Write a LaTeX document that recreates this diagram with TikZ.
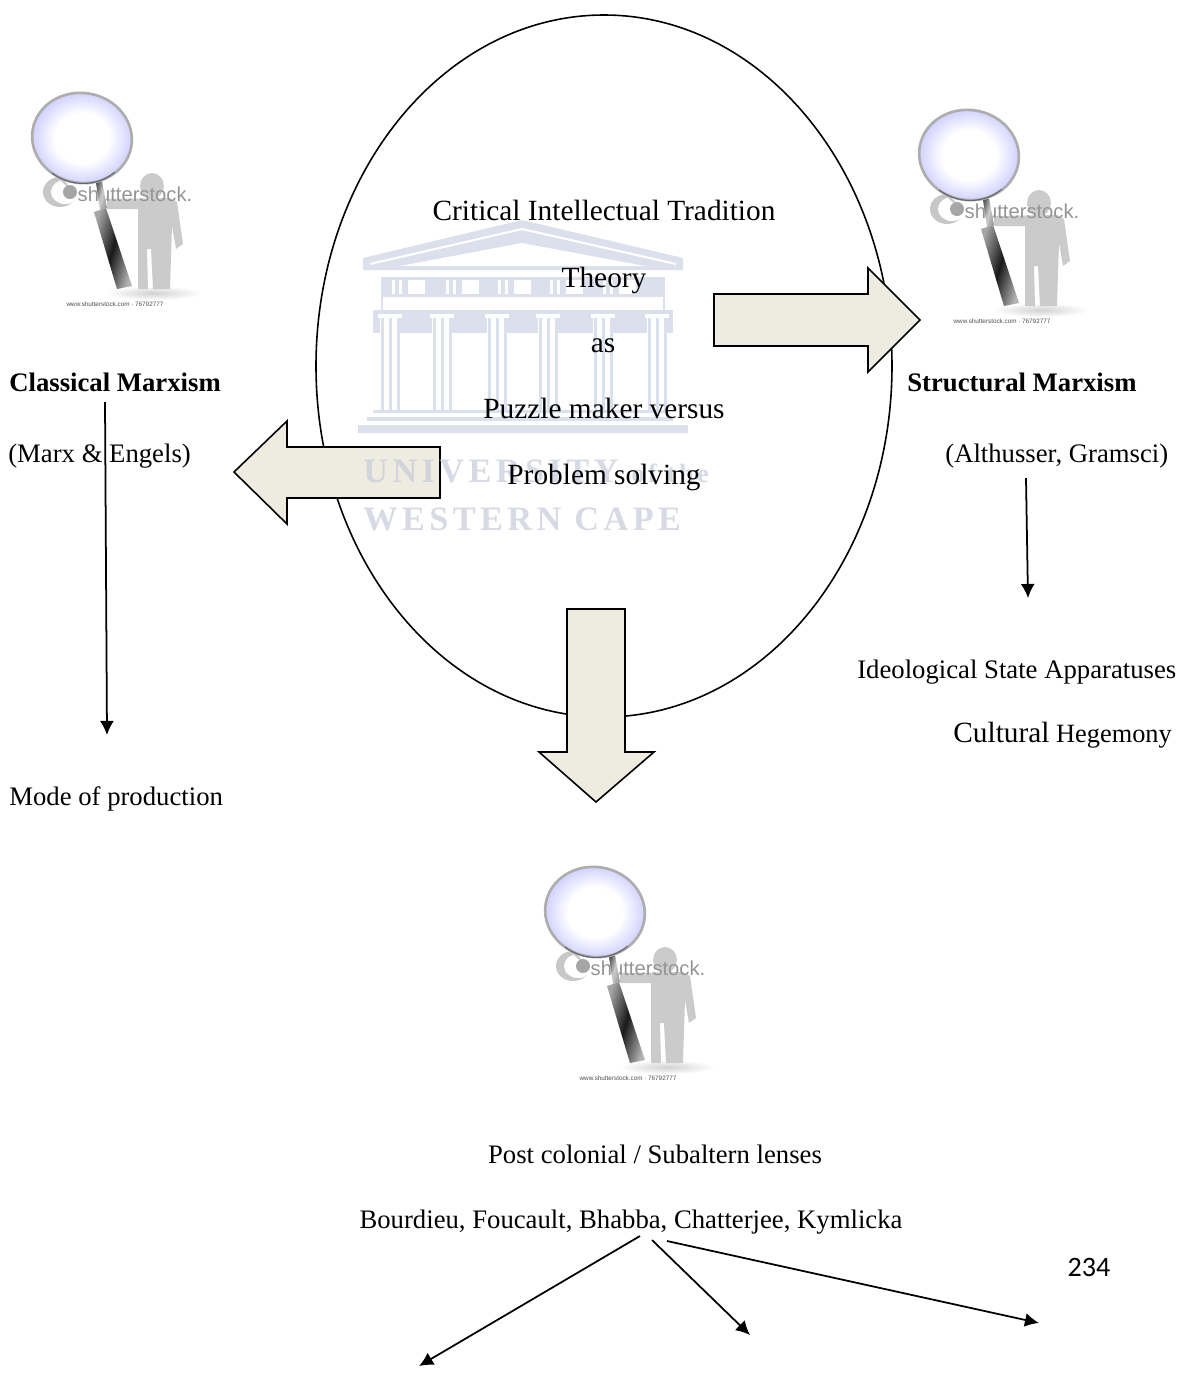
\documentclass[tikz,border=0pt]{standalone}
\usepackage{fontspec}
\setmainfont{Liberation Serif}
\setsansfont{Liberation Sans}
\newfontfamily\pagefont{Carlito}
\newfontfamily\crestfont[LetterSpace=13]{Liberation Serif Bold}
\usetikzlibrary{arrows.meta}
\definecolor{blockfill}{HTML}{EEECE1}
\definecolor{crest}{HTML}{DCDFEC}
\definecolor{crestword}{HTML}{C6CAD8}
\definecolor{figgrey}{HTML}{CBCBCB}
\pgfdeclareradialshading{lensglass}{\pgfpoint{0bp}{0bp}}{color(0bp)=(white); color(13bp)=(white); color(25bp)=(blue!20); color(50bp)=(blue!20)}
\tikzstyle{txt}=[font=\fontsize{15.2}{18}\selectfont, inner sep=0pt, anchor=base]
\tikzstyle{bigtxt}=[font=\fontsize{16.7}{20}\selectfont, inner sep=0pt, anchor=base]
\tikzstyle{txtleft}=[txt, anchor=base west]
\tikzstyle{boldleft}=[font=\fontsize{15.2}{18}\selectfont\bfseries, inner sep=0pt, anchor=base west]
\tikzstyle{blockarr}=[draw=black, line width=0.9pt, fill=blockfill]
\tikzstyle{thinarr}=[draw=black, line width=1pt, -{Latex[length=8pt,width=8pt]}]
\tikzstyle{crestname}=[font=\crestfont\fontsize{19.5}{22}\selectfont, text=crestword, opacity=0.7, inner sep=0pt, anchor=base west]
\tikzset{lensman/.pic={
	\shade[inner color=black!18, outer color=white] (72,155) ellipse (48 and 7);
	\fill[figgrey] (70,48) ellipse (12 and 13);
	\fill[figgrey] (25,61) -- (88,60) -- (95,64) -- (101,106) -- (94,111) -- (90,88) -- (88,151) -- (71,151) -- (69,111) -- (65,111) -- (66,151) -- (56,151) -- (56,71) -- (25,71) -- cycle;
	% stock mark
	\fill[black!22] (-22,54) ellipse (17 and 15);
	\fill[white] (-17,54) ellipse (14 and 12);
	\draw[black!22, line width=0.9pt] (-15,46) arc (100:260:8);
	\draw[black!22, line width=0.9pt] (-13,48) arc (100:260:6);
	\fill[black!35] (-12,54) circle (7);
	\node[font=\sffamily\fontsize{11.5}{12}\selectfont, text=black!42, inner sep=0pt] (mark) at (53,56) {shutterstock.};
	% handle
	\shade[left color=black!35, right color=black!30, middle color=black!90, shading angle=73] (12,74) -- (24,70) -- (50,148) -- (35,151) -- cycle;
	\shade[left color=black!65, right color=black!40, middle color=black!20, shading angle=73] (14,45) -- (20,43) -- (25,70) -- (18,72) -- cycle;
	% lens
	\shade[shading=lensglass, rotate=-10] (0,0) ellipse (49 and 44);
	\draw[black!32, line width=1.5pt, rotate=-10] (0,0) ellipse (50 and 45);
	\draw[black!60, line width=0.6pt, rotate=-10] (38,28) arc (36:120:47 and 42);
	\node[font=\sffamily\fontsize{3.6}{4}\selectfont, text=black!70, inner sep=0pt] (url) at (33,166) {www.shutterstock.com · 76792777};
}}
\begin{document}
\begin{tikzpicture}[x=0.02cm, y=-0.02cm]
	\useasboundingbox (0,0) rectangle (1192,1374);
	\pic at (82,138) {lensman};
	\pic at (969,155) {lensman};
	\pic at (595,912) {lensman};
	\draw[line width=0.9pt] (604,366) ellipse (288 and 351);
	\draw[blockarr] (714,294) -- (868,294) -- (868,268) -- (920,320) -- (868,372) -- (868,346) -- (714,346) -- cycle;
	\draw[blockarr] (440,447) -- (287,447) -- (287,421) -- (234,472) -- (287,524) -- (287,498) -- (440,498) -- cycle;
	\draw[blockarr] (567,609) -- (625,609) -- (625,752) -- (654,752) -- (596,802) -- (539,752) -- (567,752) -- cycle;
	% crest
	\fill[crest] (522,220) -- (683,258) -- (683,270) -- (363,270) -- (363,258) -- cycle;
	\draw[white, line width=1.2pt] (370,264) -- (522,229) -- (676,264);
	\fill[white] (522,243) -- (645,266) -- (400,266) -- cycle;
	\fill[crest] (381,277) rectangle (665,297);
	\foreach \x in {408,462,514,566,619}{
		\fill[white] (\x,280) rectangle +(17,14);
		\fill[white] (\x-16,280) rectangle +(3,14);
		\fill[white] (\x-9,280) rectangle +(3,14);
	}
	\draw[crest, line width=1.2pt] (382,297) -- (382,310) (664,297) -- (664,310);
	\fill[crest] (373,310) rectangle (673,333);
	\foreach \x in {390,442,497,548,603,657}{
		\fill[white] (\x-12,314) rectangle (\x+12,318);
		\fill[white] (\x-10,318) rectangle (\x+10,333);
		\foreach \d in {-8,0,8}
			\fill[crest] (\x+\d-1.5,318) rectangle (\x+\d+1.5,410);
	}
	\fill[crest] (373,410) rectangle (667,413);
	\fill[crest] (367,417) rectangle (673,421);
	\fill[crest] (358,425) rectangle (688,433);
	\node[crestname] (univ) at (363,482) {UNIVERSITY\ {\fontsize{15}{16}\selectfont of the}};
	\node[crestname] (cape) at (363,530) {WESTERN CAPE};
	% texts
	\node[bigtxt] (tradition) at (604,220) {Critical Intellectual Tradition};
	\node[bigtxt] (theory) at (604,287) {Theory};
	\node[bigtxt] (as) at (603,352) {as};
	\node[bigtxt] (puzzle) at (604,418) {Puzzle maker versus};
	\node[bigtxt] (problem) at (604,484) {Problem solving};
	\node[boldleft] (classical) at (9,391) {Classical Marxism};
	\node[txtleft] (engels) at (8,462) {(Marx \& Engels)};
	\node[txtleft] (mode) at (9,805) {Mode of production};
	\node[boldleft] (structural) at (907,391) {Structural Marxism};
	\node[txtleft] (gramsci) at (945,462) {(Althusser, Gramsci)};
	\node[txtleft] (ideological) at (857,678) {Ideological State Apparatuses};
	\node[txtleft] (cultural) at (953,742) {{\fontsize{16.7}{20}\selectfont Cultural} {\fontsize{15}{16}\selectfont Hegemony}};
	\node[txt] (post) at (655,1163) {Post colonial / Subaltern lenses};
	\node[txt] (bourdieu) at (631,1228) {Bourdieu, Foucault, Bhabba, Chatterjee, Kymlicka};
	\node[font=\pagefont\fontsize{16}{18}\selectfont, inner sep=0pt, anchor=base] (page) at (1089,1276) {234};
	% connectors
	\coordinate (classicalfoot) at (105,402);
	\coordinate (modehead) at (107,735);
	\coordinate (gramscifoot) at (1026,478);
	\coordinate (ideologicalhead) at (1028,598);
	\coordinate (leftfoot) at (640,1236);
	\coordinate (midfoot) at (652,1240);
	\coordinate (rightfoot) at (667,1241);
	\coordinate (lefthead) at (419,1366);
	\coordinate (midhead) at (750,1335);
	\coordinate (righthead) at (1039,1323);
	\draw[thinarr] (classicalfoot) -- (modehead);
	\draw[thinarr] (gramscifoot) -- (ideologicalhead);
	\draw[thinarr] (leftfoot) -- (lefthead);
	\draw[thinarr] (midfoot) -- (midhead);
	\draw[thinarr] (rightfoot) -- (righthead);
\end{tikzpicture}
\end{document}
